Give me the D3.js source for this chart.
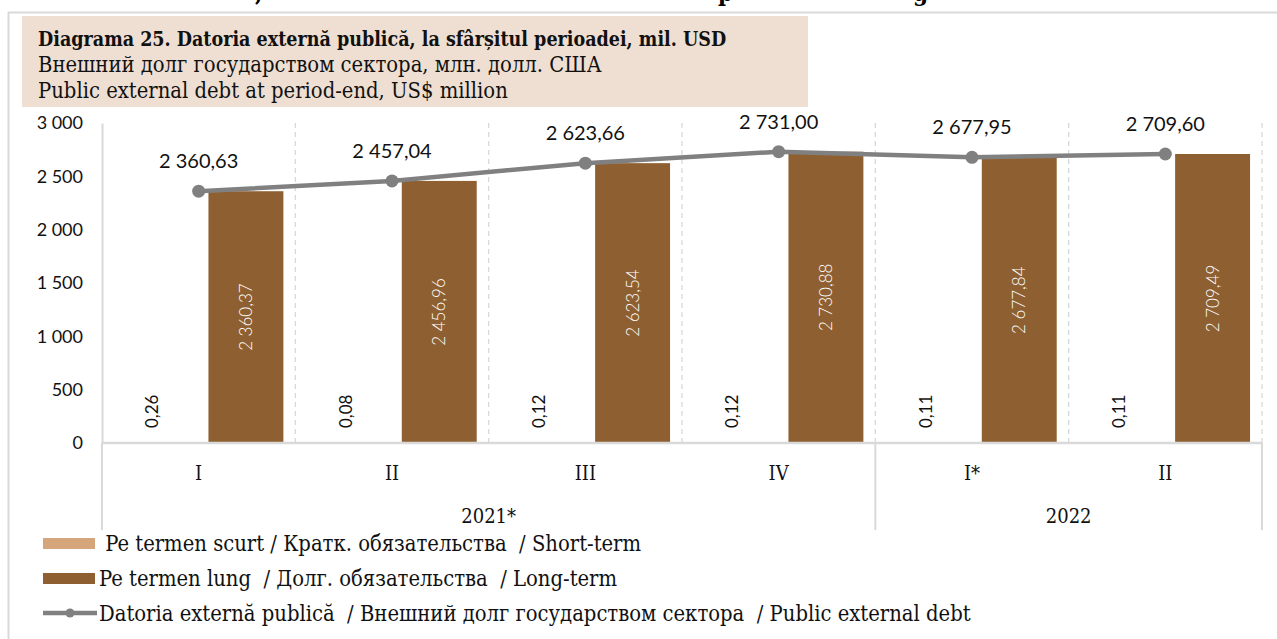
<!DOCTYPE html>
<html>
<head>
<meta charset="utf-8">
<script src="https://cdn.jsdelivr.net/npm/d3@7"></script>
<style>
body{margin:0;background:#fff;}
svg{display:block;}
.serif{font-family:"DejaVu Serif Condensed","DejaVu Serif",serif;}
.num{font-family:Lato,sans-serif;}
</style>
</head>
<body>
<div id="chart"></div>
<script>
(function(){
	var width = 1277,
	height = 639;

	// data
	var quarters = ["I","II","III","IV","I*","II"];
	var years = [{name:"2021*",from:0,to:3},{name:"2022",from:4,to:5}];
	var shortTerm = [0.26,0.08,0.12,0.12,0.11,0.11];
	var longTerm = [2360.37,2456.96,2623.54,2730.88,2677.84,2709.49];
	var totalDebt = [2360.63,2457.04,2623.66,2731.00,2677.95,2709.60];
	var yTicks = [0,500,1000,1500,2000,2500,3000];
	var titleLines = ["Diagrama 25. Datoria externă publică, la sfârșitul perioadei, mil. USD",
		"Внешний долг государством сектора, млн. долл. США",
		"Public external debt at period-end, US$ million"];
	var legendItems = [" Pe termen scurt / Кратк. обязательства  / Short-term",
		"Pe termen lung  / Долг. обязательства  / Long-term",
		"Datoria externă publică  / Внешний долг государством сектора  / Public external debt"];

	var shortColor = "#d5a67b",
		longColor = "#8e6031",
		lineColor = "#808080",
		gridColor = "#d9d9d9";

	var ro = d3.formatLocale({decimal:",",thousands:" ",grouping:[3],currency:["",""]});
	var fmt2 = ro.format(",.2f"),
		fmt0 = ro.format(",d");

	var svg = d3.select("#chart")
	.append("svg")
	.attr("width",width)
	.attr("height",height)

	// cut off heading from page above
	var cut = svg.append("g").attr("class","serif")
		.style("font-size","24px").style("font-weight","bold")
	cut.append("text").attr("x",255).attr("y",1).text(",")
	cut.append("text").attr("x",718).attr("y",1).text("p")
	cut.append("text").attr("x",913).attr("y",1).text("g")

	// frame
	svg.append("line").attr("x1",8).attr("x2",width).attr("y1",12.5).attr("y2",12.5)
		.attr("stroke",gridColor).attr("stroke-width",2)
	svg.append("line").attr("x1",8.5).attr("x2",8.5).attr("y1",12).attr("y2",height)
		.attr("stroke",gridColor).attr("stroke-width",2)

	// title box
	svg.append("rect").attr("x",22).attr("y",16).attr("width",786).attr("height",91)
		.attr("fill","#efdfd2")
	svg.selectAll(".title").data(titleLines)
		.enter().append("text")
		.attr("class","title serif")
		.attr("x",38)
		.attr("y",function(d,i){ return 46 + i*26; })
		.style("font-size",function(d,i){ return i===0 ? "19.5px" : "21.8px"; })
		.style("font-weight",function(d,i){ return i===0 ? "bold" : "normal"; })
		.attr("fill","#111")
		.text(function(d){ return d; })

	var left = 102, right = 1262, top = 123, bottom = 443;

	var x = d3.scaleBand()
		.domain(d3.range(quarters.length))
		.range([left,right])
		.padding(0)

	var xSub = d3.scaleBand()
		.domain(["short","long"])
		.range([0,x.bandwidth()])
		.paddingInner(0.19)
		.paddingOuter(0.14)

	var y = d3.scaleLinear()
		.domain([0,3000])
		.range([bottom,top])

	// dashed verticals
	svg.selectAll(".vgrid").data(d3.range(1,quarters.length+1))
		.enter().append("line")
		.attr("x1",function(d){ return x(d-1)+x.bandwidth(); })
		.attr("x2",function(d){ return x(d-1)+x.bandwidth(); })
		.attr("y1",top)
		.attr("y2",bottom)
		.attr("stroke",gridColor)
		.attr("stroke-width",1.3)
		.attr("stroke-dasharray","5,4")

	// y axis
	var yAxis = svg.append("g")
		.attr("transform","translate(" + left + ",0)")
		.call(d3.axisLeft(y).tickValues(yTicks).tickFormat(fmt0).tickSize(0).tickPadding(19))
	yAxis.select(".domain").attr("stroke",gridColor).attr("stroke-width",2)
	yAxis.selectAll("text").attr("class","num").style("font-size","18px").attr("fill","#111")

	// year separators below axis
	var seps = [0,4,6];
	svg.selectAll(".sep").data(seps)
		.enter().append("line")
		.attr("x1",function(d){ return d<quarters.length ? x(d) : right; })
		.attr("x2",function(d){ return d<quarters.length ? x(d) : right; })
		.attr("y1",bottom)
		.attr("y2",530)
		.attr("stroke",gridColor)
		.attr("stroke-width",2)

	// bars
	var groups = svg.selectAll(".cat").data(quarters)
		.enter().append("g")
		.attr("class","cat")
		.attr("transform",function(d,i){ return "translate(" + x(i) + ",0)"; })

	groups.append("rect")
		.attr("x",xSub("short"))
		.attr("width",xSub.bandwidth())
		.attr("y",function(d,i){ return y(shortTerm[i]); })
		.attr("height",function(d,i){ return y(0)-y(shortTerm[i]); })
		.attr("fill",shortColor)

	groups.append("rect")
		.attr("x",xSub("long")+1)
		.attr("width",xSub.bandwidth())
		.attr("y",function(d,i){ return y(longTerm[i]); })
		.attr("height",function(d,i){ return y(0)-y(longTerm[i]); })
		.attr("fill",longColor)

	// short labels
	groups.append("text")
		.attr("class","num")
		.attr("transform",function(){ return "translate(" + (xSub("short")+xSub.bandwidth()/2+6) + "," + (bottom-15) + ") rotate(-90)"; })
		.style("font-size","17px")
		.attr("fill","#111")
		.text(function(d,i){ return fmt2(shortTerm[i]); })

	// long labels
	groups.append("text")
		.attr("class","num")
		.attr("text-anchor","middle")
		.attr("transform",function(d,i){ return "translate(" + (xSub("long")+xSub.bandwidth()/2+7) + "," + (y(longTerm[i]/2)) + ") rotate(-90)"; })
		.style("font-size","17px")
		.style("font-weight","300")
		.attr("fill","#fff")
		.text(function(d,i){ return fmt2(longTerm[i]); })

	// x axis line
	svg.append("line").attr("x1",left).attr("x2",right).attr("y1",bottom).attr("y2",bottom)
		.attr("stroke",gridColor).attr("stroke-width",2.5)

	// total line
	var line = d3.line()
		.x(function(d,i){ return x(i)+x.bandwidth()/2; })
		.y(function(d){ return y(d); })

	svg.append("path")
		.datum(totalDebt)
		.attr("d",line)
		.attr("fill","none")
		.attr("stroke",lineColor)
		.attr("stroke-width",4.5)

	svg.selectAll(".dot").data(totalDebt)
		.enter().append("circle")
		.attr("cx",function(d,i){ return x(i)+x.bandwidth()/2; })
		.attr("cy",function(d){ return y(d); })
		.attr("r",6.5)
		.attr("fill",lineColor)

	svg.selectAll(".tot").data(totalDebt)
		.enter().append("text")
		.attr("class","num")
		.attr("text-anchor","middle")
		.attr("x",function(d,i){ return x(i)+x.bandwidth()/2; })
		.attr("y",function(d){ return y(d)-23; })
		.style("font-size","20px")
		.attr("fill","#111")
		.text(function(d){ return fmt2(d); })

	// category labels
	svg.selectAll(".qlab").data(quarters)
		.enter().append("text")
		.attr("class","serif")
		.attr("text-anchor","middle")
		.attr("x",function(d,i){ return x(i)+x.bandwidth()/2; })
		.attr("y",480)
		.style("font-size","20px")
		.attr("fill","#111")
		.text(function(d){ return d; })

	svg.selectAll(".ylab").data(years)
		.enter().append("text")
		.attr("class","serif")
		.attr("text-anchor","middle")
		.attr("x",function(d){ return (x(d.from) + x(d.to)+x.bandwidth())/2; })
		.attr("y",523)
		.style("font-size","20px")
		.attr("fill","#111")
		.text(function(d){ return d.name; })

	// legend
	var lg = svg.selectAll(".leg").data(legendItems)
		.enter().append("g")
		.attr("transform",function(d,i){ return "translate(0," + (543 + i*35) + ")"; })

	lg.each(function(d,i){
		var g = d3.select(this);
		if(i<2){
			g.append("rect").attr("x",43).attr("y",-5).attr("width",52).attr("height",11)
				.attr("fill",i===0 ? shortColor : longColor)
		} else {
			g.append("line").attr("x1",43).attr("x2",97).attr("y1",0).attr("y2",0)
				.attr("stroke",lineColor).attr("stroke-width",4.5)
			g.append("circle").attr("cx",70).attr("cy",0).attr("r",4.5).attr("fill",lineColor)
		}
	})

	lg.append("text")
		.attr("class","serif")
		.attr("x",99)
		.attr("y",8)
		.style("font-size","21.8px")
		.style("white-space","pre")
		.attr("fill","#111")
		.text(function(d){ return d; })

})();
</script>
</body>
</html>
